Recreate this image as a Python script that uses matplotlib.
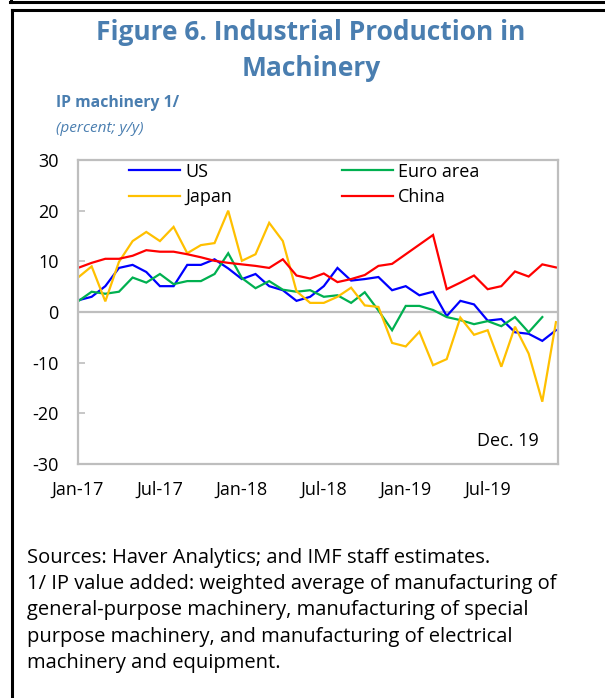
import numpy as np
import matplotlib
matplotlib.use("Agg")
import matplotlib.pyplot as plt
from matplotlib.lines import Line2D

plt.rcParams['font.family'] = ['Open Sans', 'DejaVu Sans']

months = ['Jan-17', 'Feb-17', 'Mar-17', 'Apr-17', 'May-17', 'Jun-17', 'Jul-17', 'Aug-17', 'Sep-17', 'Oct-17', 'Nov-17', 'Dec-17',
          'Jan-18', 'Feb-18', 'Mar-18', 'Apr-18', 'May-18', 'Jun-18', 'Jul-18', 'Aug-18', 'Sep-18', 'Oct-18', 'Nov-18', 'Dec-18',
          'Jan-19', 'Feb-19', 'Mar-19', 'Apr-19', 'May-19', 'Jun-19', 'Jul-19', 'Aug-19', 'Sep-19', 'Oct-19', 'Nov-19', 'Dec-19']

us = [2.3, 3.0, 5.1, 8.7, 9.3, 7.9, 5.1, 5.1, 9.3, 9.3, 10.4, 8.6,
      6.5, 7.5, 5.1, 4.3, 2.2, 3.0, 5.1, 8.7, 6.2, 6.5, 6.9, 4.3,
      5.1, 3.3, 4.0, -0.8, 2.2, 1.5, -1.7, -1.4, -4.0, -4.3, -5.7, -3.6]
euro = [2.1, 4.0, 3.6, 4.0, 6.8, 5.8, 7.5, 5.5, 6.1, 6.1, 7.5, 11.6,
        6.7, 4.7, 6.1, 4.4, 4.0, 4.3, 3.0, 3.3, 1.8, 3.9, 0.3, -3.6,
        1.2, 1.2, 0.4, -1.0, -1.6, -2.4, -1.8, -2.8, -1.0, -4.0, -1.0, np.nan]
japan = [6.8, 9.0, 2.1, 9.9, 14.0, 15.8, 14.0, 16.8, 11.6, 13.2, 13.6, 20.0,
         10.1, 11.4, 17.6, 14.0, 4.1, 1.8, 1.8, 3.0, 4.8, 1.3, 1.0, -6.1,
         -6.8, -3.9, -10.5, -9.3, -1.1, -4.5, -3.6, -10.8, -2.9, -8.2, -17.7, -2.0]
china = [8.7, 9.7, 10.5, 10.5, 11.1, 12.2, 11.9, 11.9, 11.4, 10.8, 10.1, 9.7,
         9.4, 9.1, 8.7, 10.4, 7.2, 6.6, 7.6, 5.9, 6.5, 7.3, 9.1, 9.5,
         11.4, 13.3, 15.2, 4.5, 5.8, 7.2, 4.5, 5.1, 8.0, 7.0, 9.4, 8.8]

series_names = ['US', 'Euro area', 'Japan', 'China']
series_colors = ['#0000FF', '#00B050', '#FFC000', '#FF0000']
yticks = [30, 20, 10, 0, -10, -20, -30]

W, H = 605, 698
fig = plt.figure(figsize=(W / 100, H / 100), dpi=100)

def fx(px):
    return px / W

def fy(py):
    return 1 - py / H

ax = fig.add_axes([fx(78), fy(464), fx(558) - fx(78), fy(160) - fy(464)])

x = np.arange(len(months))
handles = {}
for name, vals, col in zip(series_names, [us, euro, japan, china], series_colors):
    ln, = ax.plot(x, vals, color=col, lw=1.6, label=name, solid_joinstyle='miter')
    handles[name] = ln

gray = '#BEBEBE'
ax.axhline(0, color=gray, lw=1.6, zorder=0)
ax.set_xlim(0, 35.15)
ax.set_ylim(-30, 30)
ax.set_yticks(yticks)
ax.set_yticklabels([str(v) for v in yticks])
ax.set_xticks(x[::6])
ax.set_xticklabels(months[::6])
for sp in ax.spines.values():
    sp.set_color(gray)
    sp.set_linewidth(1.6)
ax.tick_params(axis='y', direction='in', length=5, width=1.2, color=gray, pad=14, labelsize=13)
ax.tick_params(axis='x', length=0, pad=12, labelsize=13)

order = ['US', 'Japan', 'Euro area', 'China']
axw = fx(558) - fx(78)
ax.legend([handles[n] for n in order], order, ncol=2, frameon=False,
          loc='upper left', bbox_to_anchor=((fx(122) - fx(78)) / axw, 1.015),
          fontsize=13, handlelength=2.8, handletextpad=0.3, columnspacing=6.1,
          labelspacing=0.4, borderaxespad=0)

ax.text(0.96, 0.045, 'Dec. 19', transform=ax.transAxes, ha='right', va='bottom', fontsize=13)

title_color = '#4A7EB0'
fig.text(fx(311), fy(32), 'Figure 6. Industrial Production in', ha='center', va='center',
         fontsize=19, fontweight='bold', color=title_color)
fig.text(fx(311), fy(68), 'Machinery', ha='center', va='center',
         fontsize=19, fontweight='bold', color=title_color)
fig.text(fx(56), fy(103), 'IP machinery 1/', ha='left', va='center',
         fontsize=11.3, fontweight='bold', color=title_color)
fig.text(fx(56), fy(128), '(percent; y/y)', ha='left', va='center',
         fontsize=11.1, style='italic', color=title_color)

notes = ['Sources: Haver Analytics; and IMF staff estimates.',
         '1/ IP value added: weighted average of manufacturing of',
         'general-purpose machinery, manufacturing of special',
         'purpose machinery, and manufacturing of electrical',
         'machinery and equipment.']
for i, line in enumerate(notes):
    fig.text(fx(27), fy(558 + i * 26.2), line, ha='left', va='center', fontsize=14.5, color='black')

# borders
fig.add_artist(Line2D([fx(10), 1], [fy(2), fy(2)], color='black', lw=2.2))
fig.add_artist(Line2D([fx(11), fx(11)], [fy(0), fy(2)], color='black', lw=2.2))
fig.add_artist(Line2D([fx(12), 1], [fy(9.5), fy(9.5)], color='black', lw=2.2))
fig.add_artist(Line2D([fx(12), fx(12)], [fy(9.5), 0], color='black', lw=2.2))

fig.savefig('out.png', dpi=100)
